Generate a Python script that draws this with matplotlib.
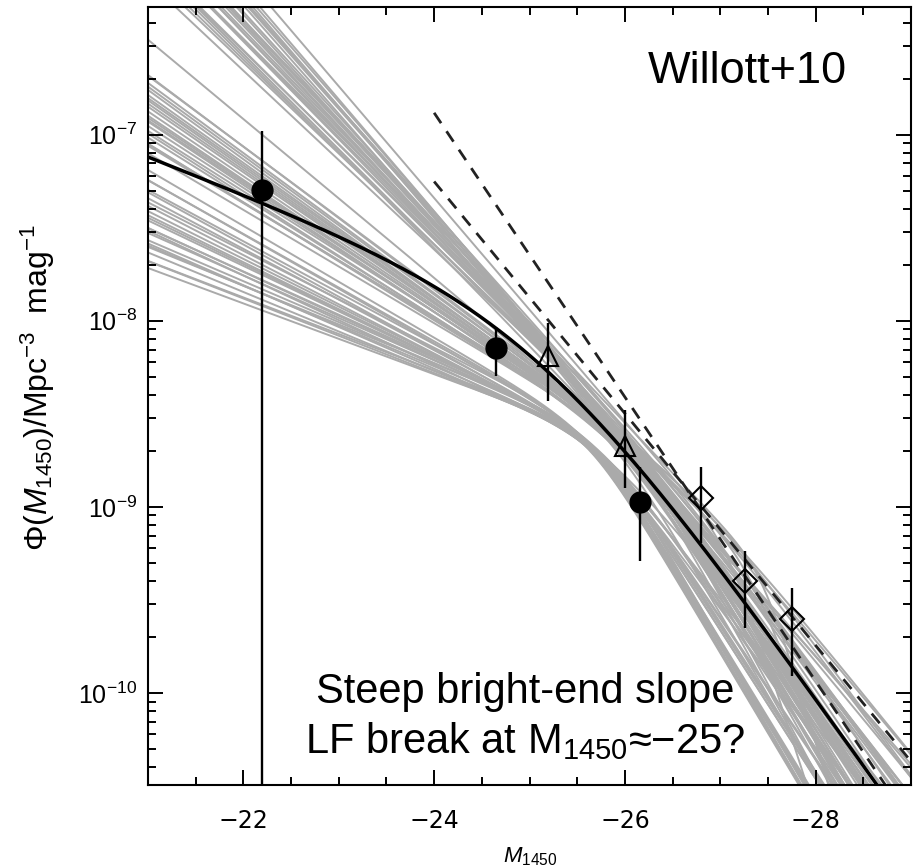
import numpy as np
import matplotlib.pyplot as plt
from matplotlib.ticker import MultipleLocator, LogLocator, NullFormatter

plt.rcParams['font.family'] = ['Liberation Sans', 'DejaVu Sans']
plt.rcParams['mathtext.fontset'] = 'custom'
plt.rcParams['mathtext.rm'] = 'Liberation Sans'
plt.rcParams['mathtext.it'] = 'Liberation Sans:italic'
plt.rcParams['mathtext.bf'] = 'Liberation Sans:bold'

# best fit double power law (Willott+10)
fit_phi_star = 1.14e-8
fit_m_star = -25.13
fit_alpha = -1.5
fit_beta = -2.81

# grey MCMC curves: break magnitude, log10 phi where the
# two asymptotes meet, faint-end slope, bright-end slope
sample_m_break = [
    # shallow faint end
    -25.65, -25.60, -25.70, -25.60, -25.75, -25.65, -25.80, -25.60, -25.70, -25.85,
    -25.65, -25.75, -25.60, -25.80, -25.70, -25.65, -25.75, -25.60, -25.85, -25.70,
    -25.70, -25.80, -25.65, -25.75,
    # intermediate
    -26.00, -25.90, -26.10, -26.00, -26.20, -25.90, -26.00, -26.10, -26.00, -25.90,
    -26.20, -26.00, -26.10, -26.00, -26.00, -25.95, -26.05, -26.00, -26.15, -25.85,
    -26.70, -26.60, -26.80, -26.50,
    # steep faint end
    -26.30, -26.40, -26.20, -26.50, -26.30, -26.60, -26.40, -26.20, -26.50, -26.30,
    -26.70, -26.40, -26.20, -26.50, -26.30, -26.60, -26.40, -26.20, -26.50, -26.30,
    -26.40, -27.45, -27.10, -27.30, -26.30, -26.40, -26.20, -26.50]
sample_log_break = [
    -8.60, -8.58, -8.62, -8.56, -8.64, -8.59, -8.66, -8.57, -8.61, -8.68,
    -8.60, -8.63, -8.56, -8.65, -8.62, -8.58, -8.64, -8.57, -8.66, -8.60,
    -8.60, -8.64, -8.60, -8.62,
    -8.62, -8.58, -8.66, -8.60, -8.70, -8.57, -8.63, -8.65, -8.61, -8.58,
    -8.68, -8.62, -8.64, -8.60, -8.62, -8.60, -8.63, -8.60, -8.67, -8.56,
    -8.85, -8.82, -8.90, -8.78,
    -8.72, -8.76, -8.68, -8.80, -8.73, -8.84, -8.78, -8.70, -8.83, -8.76,
    -8.92, -8.80, -8.72, -8.86, -8.78, -8.90, -8.82, -8.74, -8.88, -8.80,
    -8.85, -9.33, -9.20, -9.28, -8.74, -8.77, -8.70, -8.84]
sample_alpha = [
    -1.475, -1.49, -1.50, -1.52, -1.53, -1.55, -1.56, -1.58, -1.59, -1.60,
    -1.62, -1.63, -1.65, -1.66, -1.68, -1.69, -1.70, -1.72, -1.73, -1.75,
    -1.57, -1.64, -1.54, -1.61,
    -1.76, -1.78, -1.79, -1.81, -1.82, -1.84, -1.85, -1.87, -1.88, -1.90,
    -1.91, -1.93, -1.94, -1.96, -2.065, -1.80, -1.83, -1.77, -1.86, -1.89,
    -1.95, -1.90, -1.93, -1.85,
    -2.20, -2.22, -2.24, -2.25, -2.27, -2.28, -2.30, -2.31, -2.33, -2.34,
    -2.35, -2.37, -2.38, -2.40, -2.41, -2.43, -2.44, -2.45, -2.47, -2.48,
    -2.50, -2.35, -2.50, -2.28, -2.26, -2.32, -2.36, -2.42]
sample_beta = [
    -3.1, -3.15, -3.0, -3.15, -2.9, -3.1, -3.0, -3.15, -2.9, -2.8,
    -3.1, -3.0, -3.1, -2.8, -3.1, -3.0, -2.7, -3.1, -2.9, -3.0,
    -3.2, -2.6, -2.75, -3.2,
    -3.0, -2.8, -3.1, -2.9, -2.7, -3.0, -2.8, -3.2, -2.9, -3.0,
    -2.75, -3.1, -2.85, -3.0, -2.9, -2.6, -2.5, -3.3, -2.65, -3.2,
    -2.6, -2.7, -2.75, -2.55,
    -3.0, -2.9, -3.1, -2.8, -3.2, -2.9, -3.0, -3.3, -2.75, -3.1,
    -2.8, -3.0, -3.2, -2.9, -3.0, -2.7, -3.1, -2.85, -3.0, -2.9,
    -3.2, -5.25, -5.0, -4.5, -2.5, -2.6, -3.4, -3.3]
break_sharpness = 3.0

# two dashed power laws, end points
dash_m = [-24.0, -29.0]
dash_upper_phi = [1.31e-7, 2.0e-11]
dash_lower_phi = [5.6e-8, 4.3e-11]

# binned points: value, lower and upper end of error bar
circle_m = [-22.2, -24.65, -26.16]
circle_phi = [5.07e-8, 7.1e-9, 1.06e-9]
circle_lo = [1e-12, 5.06e-9, 5.1e-10]
circle_hi = [1.04e-7, 9.25e-9, 1.64e-9]

tri_m = [-25.19, -26.0]
tri_phi = [6.5e-9, 2.13e-9]
tri_lo = [3.7e-9, 1.27e-9]
tri_hi = [9.7e-9, 3.3e-9]

dia_m = [-26.80, -27.26, -27.75]
dia_phi = [1.12e-9, 4.0e-10, 2.5e-10]
dia_lo = [6.4e-10, 2.23e-10, 1.24e-10]
dia_hi = [1.64e-9, 5.8e-10, 3.65e-10]

xtick_vals = [-22, -24, -26, -28]
xtick_labels = ['\u221222', '\u221224', '\u221226', '\u221228']
ytick_vals = [1e-10, 1e-9, 1e-8, 1e-7]
ytick_labels = [r'$10^{-10}$', r'$10^{-9}$', r'$10^{-8}$', r'$10^{-7}$']


def broken_pl(m, m_b, log_b, alpha, beta, s=1.0):
    # s=1 is the usual double power law, larger s gives a sharper break
    dm = m - m_b
    t1 = s * 0.4 * (alpha + 1) * dm
    t2 = s * 0.4 * (beta + 1) * dm
    log_den = np.logaddexp(t1 * np.log(10), t2 * np.log(10)) / np.log(10) / s
    return 10 ** (log_b - log_den)


mags = np.linspace(-21, -29, 600)

fig = plt.figure(figsize=(9.13, 8.68), dpi=100)
ax = fig.add_axes([148 / 913, 83 / 868, 763 / 913, 777.7 / 868])
ax.set_yscale('log')

for mb, lb, a, b in zip(sample_m_break, sample_log_break, sample_alpha, sample_beta):
    ax.plot(mags, broken_pl(mags, mb, lb, a, b, break_sharpness),
            color='#aaaaaa', lw=1.4, zorder=1)

ax.plot(dash_m, dash_upper_phi, color='#222222', lw=2.0, dashes=(4.5, 3.5), zorder=2)
ax.plot(dash_m, dash_lower_phi, color='#222222', lw=2.0, dashes=(4.5, 3.5), zorder=2)

ax.plot(mags, broken_pl(mags, fit_m_star, np.log10(fit_phi_star), fit_alpha, fit_beta),
        color='black', lw=2.5, zorder=3)

for m_arr, lo, hi in [(circle_m, circle_lo, circle_hi),
                      (tri_m, tri_lo, tri_hi),
                      (dia_m, dia_lo, dia_hi)]:
    ax.vlines(m_arr, lo, hi, color='black', lw=1.7, zorder=4)

ax.plot(circle_m, circle_phi, 'o', ms=15, color='black', zorder=5)
ax.plot(tri_m, tri_phi, '^', ms=15, mfc='none', mec='black', mew=1.5, zorder=5)
ax.plot(dia_m, dia_phi, 'D', ms=12.5, mfc='none', mec='black', mew=1.5, zorder=5)

ax.set_xlim(-21, -29)
ax.set_ylim(3.21e-11, 4.83e-7)

ax.set_xticks(xtick_vals, labels=xtick_labels, fontsize=17, fontfamily='DejaVu Sans')
ax.xaxis.set_minor_locator(MultipleLocator(0.5))
ax.set_yticks(ytick_vals, labels=ytick_labels, fontsize=18)
ax.yaxis.set_minor_locator(LogLocator(base=10, subs=np.arange(2, 10)))
ax.yaxis.set_minor_formatter(NullFormatter())

ax.tick_params(which='both', direction='in', top=True, right=True, width=1.4)
ax.tick_params(which='major', length=11)
ax.tick_params(which='minor', length=6)
ax.tick_params(axis='x', which='major', pad=17)
ax.tick_params(axis='y', which='major', pad=8)
for sp in ax.spines.values():
    sp.set_linewidth(1.5)

fig.text(530 / 913, 1 - 857 / 868, r'$M_{1450}$', fontsize=16, ha='center', va='center')
fig.text(38 / 913, 1 - 388 / 868, r'$\Phi(M_{1450})/\mathrm{Mpc}^{-3}\ \ \mathrm{mag}^{-1}$',
         fontsize=23, rotation=90, ha='center', va='center')

ax.text(0.655, 0.9027, 'Willott+10', transform=ax.transAxes, fontsize=32.5,
        ha='left', va='baseline')
ax.text(0.494, 0.1054, 'Steep bright-end slope', transform=ax.transAxes,
        fontsize=30, ha='center', va='baseline')
ax.text(0.494, 0.041, 'LF break at M$_{1450}$\u2248\u221225?', transform=ax.transAxes,
        fontsize=30, ha='center', va='baseline')

fig.savefig('out.png', dpi=100)
